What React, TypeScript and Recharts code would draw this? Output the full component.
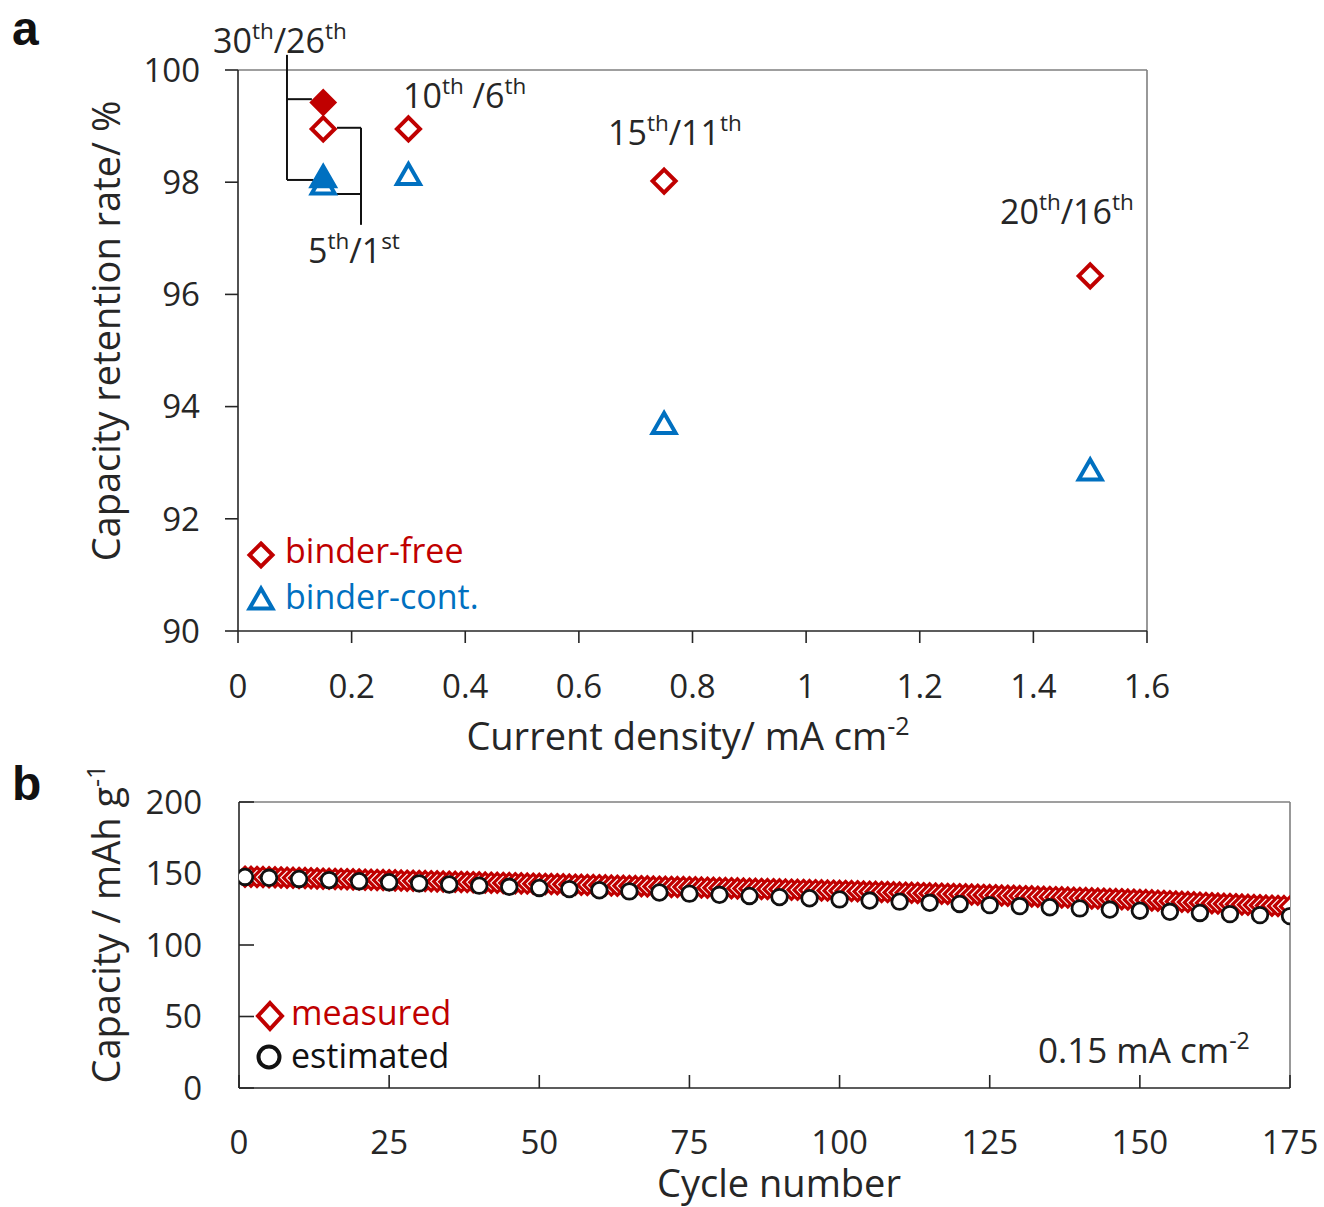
import React from 'react';
import { ScatterChart, Scatter, XAxis, YAxis, ReferenceLine, Legend } from 'recharts';

const FONT = '"Open Sans", "Noto Sans", sans-serif';
const INK = '#262626';
const FRAME = '#7f7f7f';
const RED = '#c00000';
const BLUE = '#0070c0';

// ---- panel a: capacity retention vs current density
const densities = [0.15, 0.3, 0.75, 1.5];
const freeRetention = [98.95, 98.95, 98.02, 96.33];
const contRetention = [97.95, 98.12, 93.68, 92.85];
// 30th (binder-free) / 26th (binder-cont.) cycle back at 0.15 mA cm-2
const lastDensity = [0.15];
const freeLastCycle = [99.42];
const contLastCycle = [98.08];
const densityTicks = [0, 0.2, 0.4, 0.6, 0.8, 1, 1.2, 1.4, 1.6];
const retentionTicks = [90, 92, 94, 96, 98, 100];

// bracket lines joining the cycle labels to the points (data units)
const brackets = [
  [[0.0862, 100.27], [0.0862, 98.04]],
  [[0.0862, 99.48], [0.13, 99.48]],
  [[0.0862, 98.04], [0.133, 98.04]],
  [[0.2165, 98.97], [0.2165, 97.24]],
  [[0.1743, 98.97], [0.2165, 98.97]],
  [[0.1743, 97.79], [0.2165, 97.79]],
];

// ---- panel b: capacity vs cycle number at 0.15 mA cm-2
const measured = [
  147.8, 147.7, 147.6, 147.5, 147.4, 147.3, 147.2, 147.1, 147.0, 146.9,
  146.8, 146.6, 146.5, 146.4, 146.3, 146.2, 146.1, 146.0, 145.9, 145.8,
  145.7, 145.6, 145.5, 145.4, 145.3, 145.2, 145.1, 145.0, 144.9, 144.8,
  144.7, 144.6, 144.5, 144.4, 144.3, 144.2, 144.1, 144.0, 143.9, 143.8,
  143.7, 143.6, 143.5, 143.4, 143.3, 143.2, 143.1, 143.0, 142.9, 142.8,
  142.7, 142.6, 142.5, 142.4, 142.3, 142.2, 142.1, 142.0, 141.9, 141.8,
  141.7, 141.6, 141.5, 141.4, 141.3, 141.2, 141.1, 141.0, 140.9, 140.8,
  140.7, 140.6, 140.5, 140.5, 140.4, 140.3, 140.2, 140.1, 140.0, 139.9,
  139.8, 139.7, 139.6, 139.5, 139.4, 139.3, 139.2, 139.1, 139.0, 138.9,
  138.8, 138.7, 138.6, 138.5, 138.4, 138.3, 138.2, 138.1, 138.0, 137.9,
  137.8, 137.7, 137.6, 137.4, 137.3, 137.2, 137.1, 137.0, 136.8, 136.7,
  136.6, 136.5, 136.4, 136.2, 136.1, 136.0, 135.9, 135.7, 135.6, 135.5,
  135.4, 135.3, 135.2, 135.0, 134.9, 134.8, 134.6, 134.5, 134.4, 134.2,
  134.1, 134.0, 133.8, 133.7, 133.6, 133.4, 133.3, 133.2, 133.0, 132.9,
  132.8, 132.6, 132.5, 132.4, 132.2, 132.1, 132.0, 131.8, 131.7, 131.5,
  131.4, 131.2, 131.0, 130.8, 130.6, 130.4, 130.2, 130.0, 129.8, 129.6,
  129.4, 129.2, 129.0, 128.8, 128.7, 128.5, 128.3, 128.1, 127.9, 127.8,
  127.6, 127.5, 127.3, 127.2, 127.0,
];
const estCycles = [
  1, 5, 10, 15, 20, 25, 30, 35, 40, 45, 50, 55, 60, 65, 70, 75, 80, 85,
  90, 95, 100, 105, 110, 115, 120, 125, 130, 135, 140, 145, 150, 155, 160, 165, 170, 175,
];
const estimated = [
  147.6, 147.0, 146.2, 145.4, 144.6, 143.9, 143.1, 142.3, 141.5, 140.7, 139.9, 139.1,
  138.3, 137.5, 136.7, 135.9, 135.1, 134.3, 133.5, 132.7, 131.9, 131.1, 130.3, 129.5,
  128.7, 127.9, 127.2, 126.4, 125.6, 124.8, 124.0, 123.2, 122.4, 121.6, 120.9, 120.2,
];
const cycleTicks = [0, 25, 50, 75, 100, 125, 150, 175];
const capacityTicks = [0, 50, 100, 150, 200];

const freeData = densities.map((x, i) => ({ x, y: freeRetention[i] }));
const contData = densities.map((x, i) => ({ x, y: contRetention[i] }));
const freeLastData = lastDensity.map((x, i) => ({ x, y: freeLastCycle[i] }));
const contLastData = lastDensity.map((x, i) => ({ x, y: contLastCycle[i] }));
const measuredData = measured.map((y, i) => ({ x: i + 1, y }));
const estimatedData = estCycles.map((x, i) => ({ x, y: estimated[i] }));

// symbols
const diamondPath = (cx, cy, w, h) => `M${cx},${cy - h}L${cx + w},${cy}L${cx},${cy + h}L${cx - w},${cy}Z`;
const trianglePath = (cx, cy, s = 1) =>
  `M${cx},${cy - 11.5 * s}L${cx + 11.5 * s},${cy + 8.5 * s}L${cx - 11.5 * s},${cy + 8.5 * s}Z`;

const OpenDiamond = (p) => (
  <path d={diamondPath(p.cx, p.cy, 11.5, 11.5)} fill="#fff" stroke={RED} strokeWidth={4} />
);
const FilledDiamond = (p) => (
  <path d={diamondPath(p.cx, p.cy, 12.5, 12.5)} fill={RED} stroke={RED} strokeWidth={2} />
);
const OpenTriangle = (p) => (
  <path d={trianglePath(p.cx, p.cy)} fill="#fff" stroke={BLUE} strokeWidth={4} />
);
const FilledTriangle = (p) => (
  <path d={trianglePath(p.cx, p.cy)} fill={BLUE} stroke={BLUE} strokeWidth={4} />
);
const SmallDiamond = (p) => (
  <path d={diamondPath(p.cx, p.cy, 9.5, 9.5)} fill="#fff" stroke={RED} strokeWidth={3.2} />
);
const OpenCircle = (p) => <circle cx={p.cx} cy={p.cy} r={7.8} fill="#fff" stroke="#111" strokeWidth={2.8} />;

// text with superscripts: parts = [text, isSup]
function SupText({ x, y, parts, size = 34, fill = INK, anchor = 'start', transform = undefined }) {
  const shift = size * 0.4;
  let cur = 0;
  return (
    <text x={x} y={y} fontSize={size} fill={fill} textAnchor={anchor} fontFamily={FONT} transform={transform}>
      {parts.map(([t, sup], i) => {
        const target = sup ? -shift : 0;
        const dy = target - cur;
        cur = target;
        return (
          <tspan key={i} dy={dy} fontSize={sup ? size * 0.66 : size}>
            {t}
          </tspan>
        );
      })}
    </text>
  );
}

const tickStyle = { fontSize: 33, fill: INK, fontFamily: FONT };
const axisLine = { stroke: INK, strokeWidth: 1.6 };
const TITLE = 38;

function LegendA() {
  return (
    <svg width={270} height={100} style={{ display: 'block', overflow: 'visible' }}>
      <path d={diamondPath(21, 23, 11.5, 11.5)} fill="#fff" stroke={RED} strokeWidth={4} />
      <text x={45} y={31} fontSize={34} fill={RED} fontFamily={FONT}>binder-free</text>
      <path d={trianglePath(21, 68)} fill="#fff" stroke={BLUE} strokeWidth={4} />
      <text x={45} y={77} fontSize={34} fill={BLUE} fontFamily={FONT}>binder-cont.</text>
    </svg>
  );
}

function LegendB() {
  return (
    <svg width={230} height={100} style={{ display: 'block', overflow: 'visible' }}>
      <path d={diamondPath(30, 16, 12, 13)} fill="#fff" stroke={RED} strokeWidth={4} />
      <text x={51} y={25} fontSize={34} fill={RED} fontFamily={FONT}>measured</text>
      <circle cx={29} cy={57} r={10.5} fill="#fff" stroke="#111" strokeWidth={4} />
      <text x={51} y={68} fontSize={34} fill="#111" fontFamily={FONT}>estimated</text>
    </svg>
  );
}

function PanelA() {
  return (
    <ScatterChart width={1324} height={760} margin={{ top: 70, right: 177, bottom: 69, left: 138 }}>
      <XAxis
        type="number"
        dataKey="x"
        domain={[0, 1.6]}
        ticks={densityTicks}
        tickFormatter={(v) => String(v)}
        height={60}
        tickSize={12}
        tickMargin={32}
        tick={tickStyle}
        axisLine={axisLine}
        tickLine={axisLine}
        allowDataOverflow
        label={{
          content: () => (
            <SupText x={688} y={750} size={TITLE} anchor="middle" parts={[['Current density/ mA cm'], ['-2', true]]} />
          ),
        }}
      />
      <YAxis
        type="number"
        dataKey="y"
        domain={[90, 100]}
        ticks={retentionTicks}
        width={100}
        tickSize={13}
        tickMargin={25}
        tick={tickStyle}
        axisLine={axisLine}
        tickLine={axisLine}
        allowDataOverflow
        label={{
          content: () => (
            <SupText
              x={331}
              y={0}
              size={TITLE}
              anchor="middle"
              transform="translate(120,662) rotate(-90)"
              parts={[['Capacity retention rate/ %']]}
            />
          ),
        }}
      />
      <ReferenceLine y={100} stroke={FRAME} strokeWidth={1.6} />
      <ReferenceLine x={1.6} stroke={FRAME} strokeWidth={1.6} />
      {brackets.map((s, i) => (
        <ReferenceLine
          key={i}
          segment={[{ x: s[0][0], y: s[0][1] }, { x: s[1][0], y: s[1][1] }]}
          stroke="#111"
          strokeWidth={2}
          ifOverflow="visible"
        />
      ))}
      <Scatter data={contData} shape={OpenTriangle} isAnimationActive={false} />
      <Scatter data={contLastData} shape={FilledTriangle} isAnimationActive={false} />
      <Scatter data={freeData} shape={OpenDiamond} isAnimationActive={false} />
      <Scatter data={freeLastData} shape={FilledDiamond} isAnimationActive={false} />
      <Legend
        layout="horizontal"
        verticalAlign="middle"
        align="center"
        content={() => <LegendA />}
        wrapperStyle={{ left: 240, top: 532, width: 270, height: 100 }}
      />
      <SupText x={213} y={53} parts={[['30'], ['th', true], ['/26'], ['th', true]]} />
      <SupText x={403} y={108} parts={[['10'], ['th', true], [' /6'], ['th', true]]} />
      <SupText x={608} y={145} parts={[['15'], ['th', true], ['/11'], ['th', true]]} />
      <SupText x={1000} y={224} parts={[['20'], ['th', true], ['/16'], ['th', true]]} />
      <SupText x={308} y={263} parts={[['5'], ['th', true], ['/1'], ['st', true]]} />
      <text x={12} y={45} fontSize={48} fontWeight="bold" fill="#111" fontFamily='"Liberation Sans", Arial, sans-serif'>
        a
      </text>
    </ScatterChart>
  );
}

// panel b chart starts at page y = 740
function PanelB() {
  return (
    <ScatterChart width={1324} height={467} margin={{ top: 62, right: 34, bottom: 59, left: 139 }}>
      <XAxis
        type="number"
        dataKey="x"
        domain={[0, 175]}
        ticks={cycleTicks}
        height={60}
        tickSize={-13}
        tickMargin={56}
        tick={tickStyle}
        axisLine={axisLine}
        tickLine={axisLine}
        allowDataOverflow
        label={{
          content: () => <SupText x={779} y={457} size={TITLE} anchor="middle" parts={[['Cycle number']]} />,
        }}
      />
      <YAxis
        type="number"
        dataKey="y"
        domain={[0, 200]}
        ticks={capacityTicks}
        width={100}
        tickSize={-15}
        tickMargin={52}
        tick={tickStyle}
        axisLine={axisLine}
        tickLine={axisLine}
        allowDataOverflow
        label={{
          content: () => (
            <SupText
              x={184}
              y={0}
              size={TITLE}
              anchor="middle"
              transform="translate(120,368) rotate(-90)"
              parts={[['Capacity / mAh g'], ['-1', true]]}
            />
          ),
        }}
      />
      <ReferenceLine y={200} stroke={FRAME} strokeWidth={1.6} />
      <ReferenceLine x={175} stroke={FRAME} strokeWidth={1.6} />
      <Scatter data={measuredData} shape={SmallDiamond} isAnimationActive={false} />
      <Scatter data={estimatedData} shape={OpenCircle} isAnimationActive={false} />
      <Legend
        layout="horizontal"
        verticalAlign="middle"
        align="center"
        content={() => <LegendB />}
        wrapperStyle={{ left: 240, top: 260, width: 230, height: 100 }}
      />
      <SupText x={1038} y={323} size={35} parts={[['0.15 mA cm'], ['-2', true]]} />
      <text x={12} y={60} fontSize={48} fontWeight="bold" fill="#111" fontFamily='"Liberation Sans", Arial, sans-serif'>
        b
      </text>
    </ScatterChart>
  );
}

export default function App() {
  return (
    <div style={{ position: 'absolute', left: 0, top: 0, width: 1324, height: 1207, background: '#fff' }}>
      <div style={{ position: 'absolute', left: 0, top: 0 }}>
        <PanelA />
      </div>
      <div style={{ position: 'absolute', left: 0, top: 740 }}>
        <PanelB />
      </div>
    </div>
  );
}
